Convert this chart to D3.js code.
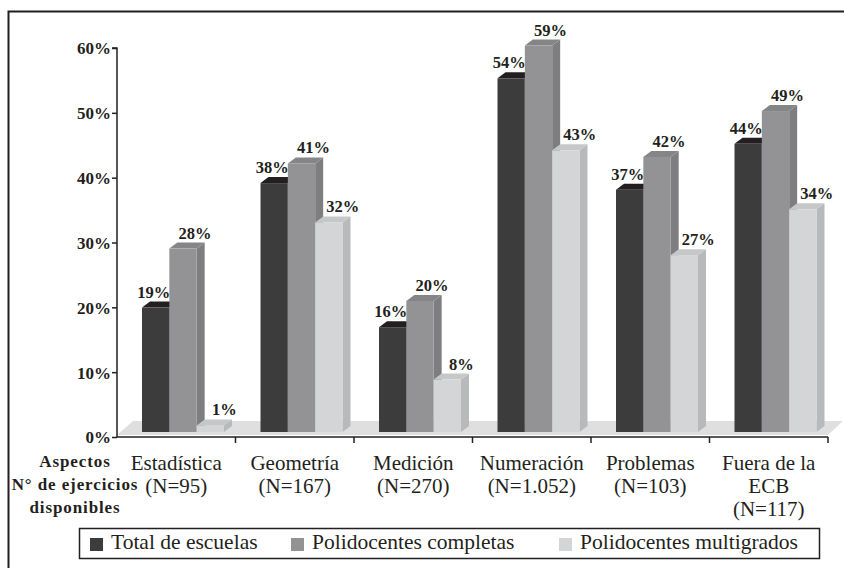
<!DOCTYPE html>
<html>
<head>
<meta charset="utf-8">
<script src="https://cdn.jsdelivr.net/npm/d3@7"></script>
<style>
  body { margin: 0; background: #fff; }
  svg text { font-family: "Liberation Serif", "Times New Roman", serif; fill: #231f20; }
</style>
</head>
<body>
<div id="chart"></div>
<script>
// data
var categories = ["Estadística", "Geometría", "Medición", "Numeración", "Problemas", "Fuera de la\nECB"];
var counts = ["95", "167", "270", "1.052", "103", "117"];
var series = ["Total de escuelas", "Polidocentes completas", "Polidocentes multigrados"];
var total = [19, 38, 16, 54, 37, 44];
var completas = [28, 41, 20, 59, 42, 49];
var multigrados = [1, 32, 8, 43, 27, 34];
var yTicks = [0, 10, 20, 30, 40, 50, 60];
var rowLabels = ["Aspectos", "N° de ejercicios", "disponibles"];

var values = [total, completas, multigrados];

var width = 844, height = 568;

// front / top / side shades per series
var shades = [
  {front: "#3c3c3d", top: "#231f20", side: "#2e2e2f"},
  {front: "#939396", top: "#858588", side: "#7e7e81"},
  {front: "#d4d5d7", top: "#c6c7c9", side: "#b8b9bb"}
];
var labelShift = [-2, 12, 14];
var depth = {dx: 8, dy: -6};

var svg = d3.select('#chart').append('svg')
  .attr('width', width)
  .attr('height', height);

// outer frame
svg.append('rect')
  .attr('x', 8.5).attr('y', 11.5)
  .attr('width', 900).attr('height', 700)
  .attr('fill', 'none')
  .attr('stroke', '#231f20')
  .attr('stroke-width', 2);

var x = d3.scaleBand().domain(categories).range([117, 828]);
var x1 = d3.scaleBand().domain(series).range([25, 107]);
var yAxisScale = d3.scaleLinear().domain([0, 60]).range([437, 48]);
var y = d3.scaleLinear().domain([0, 60]).range([432, 39]);

// floor
svg.append('polygon')
  .attr('points', [[117, 435], [133, 421], [843, 421], [828, 435]].join(' '))
  .attr('fill', '#dfdfe0');

// bars, drawn left to right so each one hides the side of the previous
var bars = [];
categories.forEach(function(c, ci) {
  series.forEach(function(s, si) {
    bars.push({cat: c, ser: s, si: si, v: values[si][ci]});
  });
});

var g = svg.selectAll('.bar')
  .data(bars)
  .enter()
  .append('g')
  .attr('class', 'bar');

g.each(function(d) {
  var el = d3.select(this);
  var x0 = x(d.cat) + x1(d.ser), w = x1.bandwidth();
  var top = y(d.v), bottom = y(0);
  var dx = depth.dx, dy = depth.dy;
  // side
  el.append('polygon')
    .attr('points', [[x0 + w, top], [x0 + w + dx, top + dy], [x0 + w + dx, bottom + dy], [x0 + w, bottom]].join(' '))
    .attr('fill', shades[d.si].side);
  // top
  el.append('polygon')
    .attr('points', [[x0, top], [x0 + dx, top + dy], [x0 + w + dx, top + dy], [x0 + w, top]].join(' '))
    .attr('fill', shades[d.si].top);
  // front
  el.append('rect')
    .attr('x', x0).attr('y', top)
    .attr('width', w).attr('height', bottom - top)
    .attr('fill', shades[d.si].front);
});

// data labels on top of everything
svg.selectAll('.lbl')
  .data(bars)
  .enter()
  .append('text')
  .attr('class', 'lbl')
  .attr('x', function(d) { return x(d.cat) + x1(d.ser) + x1.bandwidth() / 2 + labelShift[d.si]; })
  .attr('y', function(d) { return y(d.v) - 10; })
  .attr('text-anchor', 'middle')
  .attr('font-size', '16.5px')
  .attr('font-weight', 'bold')
  .text(function(d) { return d.v + '%'; });

// y axis
var yAxis = d3.axisLeft(yAxisScale)
  .tickValues(yTicks)
  .tickSize(5)
  .tickFormat(function(d) { return d + '%'; });

var ya = svg.append('g')
  .attr('transform', 'translate(117,0)')
  .call(yAxis);
ya.select('.domain').attr('stroke', '#231f20').attr('stroke-width', 1.5).attr('d', 'M-5,48H0V437');
ya.selectAll('.tick line').attr('stroke', '#231f20').attr('stroke-width', 1.5);
ya.selectAll('.tick text')
  .attr('font-size', '17px')
  .attr('font-weight', 'bold')
  .attr('font-family', '"Liberation Serif", serif')
  .attr('fill', '#231f20')
  .attr('x', -6)
  .attr('dy', '0.35em');

// x axis line with boundary ticks
svg.append('line')
  .attr('x1', 117).attr('x2', 828)
  .attr('y1', 437).attr('y2', 437)
  .attr('stroke', '#231f20').attr('stroke-width', 1.5);

var bounds = categories.map(function(c) { return x(c); }).concat([x.range()[1]]);
svg.selectAll('.xtick')
  .data(bounds.slice(1))
  .enter()
  .append('line')
  .attr('x1', function(d) { return d; }).attr('x2', function(d) { return d; })
  .attr('y1', 437).attr('y2', 443)
  .attr('stroke', '#231f20').attr('stroke-width', 1.5);

// category labels
var cl = svg.selectAll('.cat')
  .data(categories)
  .enter()
  .append('text')
  .attr('class', 'cat')
  .attr('text-anchor', 'middle')
  .attr('font-size', '21px')
  .attr('y', 470);

cl.each(function(c, i) {
  var el = d3.select(this);
  var lines = c.split('\n').concat(['(N=' + counts[i] + ')']);
  lines.forEach(function(t, li) {
    el.append('tspan')
      .attr('x', x(c) + x.bandwidth() / 2)
      .attr('dy', li === 0 ? 0 : 23)
      .text(t);
  });
});

// row header on the left
svg.selectAll('.row')
  .data(rowLabels)
  .enter()
  .append('text')
  .attr('x', 75)
  .attr('y', function(d, i) { return 467 + i * 23; })
  .attr('text-anchor', 'middle')
  .attr('font-size', '17px')
  .attr('font-weight', 'bold')
  .attr('letter-spacing', '0.9px')
  .text(function(d) { return d; });

// legend
svg.append('rect')
  .attr('x', 79.5).attr('y', 528.5)
  .attr('width', 740).attr('height', 30)
  .attr('fill', 'none')
  .attr('stroke', '#231f20')
  .attr('stroke-width', 1.5);

var legendX = [90, 291, 559];
var lg = svg.selectAll('.leg')
  .data(series)
  .enter()
  .append('g')
  .attr('transform', function(d, i) { return 'translate(' + legendX[i] + ',0)'; });

lg.append('rect')
  .attr('x', 0).attr('y', 538)
  .attr('width', 13).attr('height', 13)
  .attr('fill', function(d, i) { return shades[i].front; });

lg.append('text')
  .attr('x', 21).attr('y', 549)
  .attr('font-size', '21.5px')
  .text(function(d) { return d; });
</script>
</body>
</html>
